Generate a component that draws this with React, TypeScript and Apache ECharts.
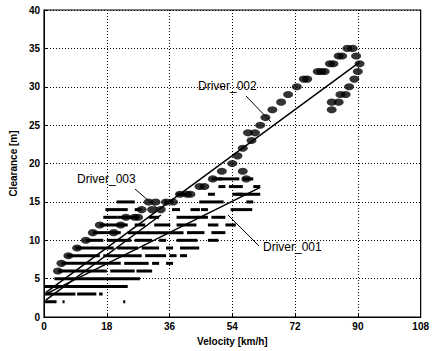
import React, { useEffect, useRef } from "react";
import * as echarts from "echarts";

const xTicks = [0, 18, 36, 54, 72, 90, 108];
const yTicks = [0, 5, 10, 15, 20, 25, 30, 35, 40];

// Driver_002 points [velocity, clearance]
const driver002Points: number[][] = [
  [87, 35], [88.5, 35],
  [84.5, 34], [85.5, 34], [89.5, 34],
  [82, 33], [83, 33], [90.5, 33],
  [78.5, 32], [79.5, 32], [80.5, 32], [90, 32],
  [74.5, 31], [75.5, 31], [89, 31],
  [72.5, 30], [87.5, 30],
  [70, 29], [85, 29], [86.5, 29],
  [68, 28], [82.5, 28], [84.5, 28],
  [65.5, 27], [82.5, 27],
  [63.5, 26],
  [62, 25],
  [58.5, 24], [60.5, 24],
  [59.5, 23],
  [57, 22],
  [55.5, 21],
  [54, 20],
  [51, 19], [57, 19],
  [48.4, 18], [58, 18],
  [44.6, 17], [46, 17],
  [41, 16], [39, 16], [42, 16],
  [30, 15], [32, 15], [35, 15], [37, 15],
  [28, 14], [31, 14], [33.5, 14],
  [26, 13], [23.5, 13], [27, 13],
  [22, 12], [20, 11],
  [4, 6], [5, 7], [7, 8], [9.5, 9], [12, 10], [14, 11], [16, 12],
];

// Driver_001 / Driver_003 horizontal dash runs [velocityStart, velocityEnd, clearance]
const dashRuns: number[][] = [
  [0.3, 3.6, 2], [5.3, 5.9, 2], [22.7, 23.3, 2],
  [0.3, 9, 3], [9.5, 15, 3], [15.8, 16.8, 3],
  [0, 24, 4],
  [3, 27.5, 5],
  [4, 18, 6], [19, 26, 6], [26.5, 31, 6],
  [5, 22, 7], [23, 30, 7], [31, 33, 7], [35, 37, 7],
  [6.5, 16, 8], [17, 28, 8], [29, 35, 8], [36, 38, 8], [39, 41, 8],
  [9, 20, 9], [21, 27, 9], [28, 33, 9], [35, 37, 9], [39, 44.5, 9],
  [12, 17, 10], [18, 25, 10], [26, 31, 10], [33, 35, 10], [38, 44, 10], [47, 50, 10],
  [14, 22, 11], [24, 30, 11], [29.7, 40, 11], [41, 46, 11], [48, 52, 11],
  [16, 24, 12], [26, 29, 12], [31.6, 36.2, 12], [38, 43.7, 12], [47, 50, 12], [52, 55, 12],
  [17, 21, 13], [21, 27, 13], [30, 33, 13], [38, 44.5, 13], [44, 47, 13], [48, 52, 13],
  [17.6, 24, 14], [26, 28, 14], [36.7, 39, 14], [42, 44.7, 14], [45, 47, 14], [53.5, 59.7, 14],
  [20.8, 26, 15], [34.5, 37, 15], [44.5, 51.5, 15], [58, 60, 15],
  [38, 41, 16], [47, 49, 16], [54, 57, 16], [55, 62, 16],
  [50, 52, 17], [53, 57, 17], [60, 62, 17],
  [48, 51, 18], [50, 56, 18], [57, 60, 18],
];

// Fitted lines [velocity, clearance]
const driver002Line = [[0.5, 3.2], [90.5, 33.2]];
const driver003Line = [[0.5, 2.2], [33.5, 13.3]];
const driver001Line = [[0.5, 3.0], [62, 16.9]];

export default function App() {
  const ref = useRef<HTMLDivElement>(null);
  useEffect(() => {
    if (!ref.current) return;
    const chart = echarts.init(ref.current, null, { renderer: "svg" });
    const font = "Liberation Sans";
    const lineStyle = { color: "#000", width: 1.5 };
    chart.setOption({
      animation: false,
      backgroundColor: "#fff",
      grid: { left: 44, right: 3, top: 10, bottom: 31, show: true, borderColor: "#000", borderWidth: 1.2, backgroundColor: "transparent" },
      xAxis: {
        type: "value", min: 0, max: 108, interval: 18,
        name: "Velocity [km/h]", nameLocation: "middle", nameGap: 18,
        nameTextStyle: { fontFamily: font, fontSize: 10, fontWeight: "bold", color: "#000" },
        axisLine: { show: true, lineStyle: { color: "#000" } },
        axisTick: { show: true, inside: true, length: 4, lineStyle: { color: "#000" } },
        axisLabel: { fontFamily: font, fontSize: 10, fontWeight: "bold", color: "#000", margin: 4 },
        splitLine: { show: true, lineStyle: { color: "#000", type: [1, 2], width: 1 } },
      },
      yAxis: {
        type: "value", min: 0, max: 40, interval: 5,
        name: "Clearance [m]", nameLocation: "middle", nameGap: 25,
        nameTextStyle: { fontFamily: font, fontSize: 10, fontWeight: "bold", color: "#000" },
        axisLine: { show: true, lineStyle: { color: "#000" } },
        axisTick: { show: true, inside: true, length: 4, lineStyle: { color: "#000" } },
        axisLabel: { fontFamily: font, fontSize: 10, fontWeight: "bold", color: "#000", margin: 4 },
        splitLine: { show: true, lineStyle: { color: "#000", type: [1, 2], width: 1 } },
      },
      series: [
        {
          type: "custom",
          name: "dashes",
          data: dashRuns,
          encode: { x: [0, 1], y: 2 },
          renderItem: (params: any, api: any) => {
            const a = api.coord([api.value(0), api.value(2)]);
            const b = api.coord([api.value(1), api.value(2)]);
            return {
              type: "rect",
              shape: { x: a[0], y: a[1] - 1.5, width: Math.max(b[0] - a[0], 2), height: 3 },
              style: { fill: "#000" },
            };
          },
        },
        {
          type: "scatter",
          name: "Driver_002",
          data: driver002Points,
          symbol: "circle",
          symbolSize: [10, 7],
          itemStyle: { color: "#000" },
        },
        { type: "line", data: driver002Line, symbol: "none", lineStyle },
        { type: "line", data: driver003Line, symbol: "none", lineStyle },
        { type: "line", data: driver001Line, symbol: "none", lineStyle },
      ],
      graphic: [
        { type: "text", left: 198, top: 80, style: { text: "Driver_002", font: `12px ${font}`, fill: "#000" } },
        { type: "line", shape: { x1: 246, y1: 96, x2: 271, y2: 122 }, style: { stroke: "#000", lineWidth: 1 } },
        { type: "text", left: 77, top: 173, style: { text: "Driver_003", font: `12px ${font}`, fill: "#000" } },
        { type: "line", shape: { x1: 135, y1: 189, x2: 157, y2: 208 }, style: { stroke: "#000", lineWidth: 1 } },
        { type: "text", left: 263, top: 241, style: { text: "Driver_001", font: `12px ${font}`, fill: "#000" } },
        { type: "line", shape: { x1: 259, y1: 246, x2: 228, y2: 215 }, style: { stroke: "#000", lineWidth: 1 } },
      ],
    });
    return () => chart.dispose();
  }, []);
  return <div ref={ref} style={{ position: "fixed", left: 0, top: 0, width: 432, height: 351 }} />;
}
